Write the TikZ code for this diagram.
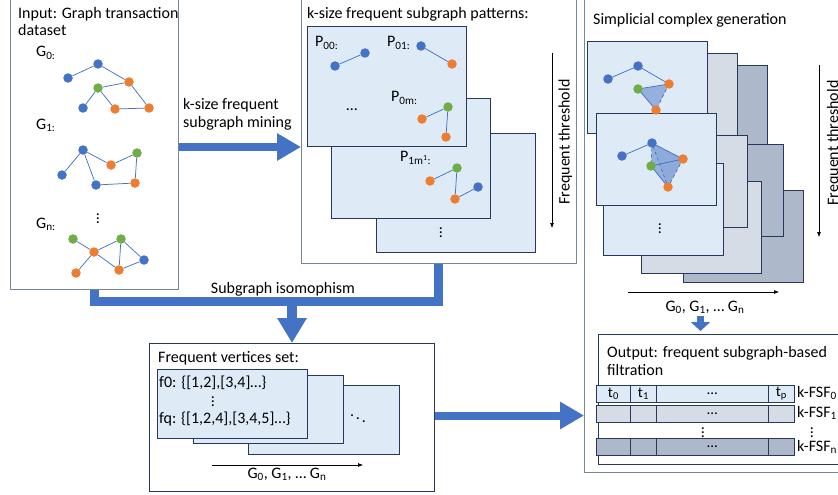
\documentclass[tikz,border=0pt]{standalone}
\usepackage{fontspec}
\setmainfont{Carlito}
\usetikzlibrary{arrows.meta}

\definecolor{blk}{HTML}{4472C4}
\definecolor{vblue}{HTML}{4472C4}
\definecolor{vorange}{HTML}{ED7D31}
\definecolor{vgreen}{HTML}{70AD47}
\definecolor{framegray}{HTML}{7485A2}
\definecolor{navy}{HTML}{26395C}
\definecolor{c0}{HTML}{DEEBF7}
\definecolor{c1}{HTML}{D6DCE5}
\definecolor{c2}{HTML}{ADB9CA}
\definecolor{facecol}{HTML}{8FAADC}

\begin{document}
\begin{tikzpicture}[x=1pt, y=-1pt,
  font=\fontsize{16}{18}\selectfont,
  frame/.style={draw=framegray, line width=1.1pt, anchor=north west, inner sep=0},
  box/.style={draw=navy, line width=1pt, anchor=north west, inner sep=0},
  card/.style={draw=navy, line width=0.9pt, anchor=north west, inner sep=0, fill=#1},
  cell/.style={draw=navy, line width=0.8pt, anchor=north west, inner sep=0, minimum height=17, fill=#1, font=\fontsize{15}{17}\selectfont},
  vtx/.style={circle, inner sep=0, minimum size=9.5pt, fill=#1},
  edge/.style={vblue, line width=0.75pt},
  face/.style={fill=facecol, fill opacity=0.9},
  bigarrow/.style={blk, line width=8pt, -{Triangle[width=26pt, length=24pt]}},
  axis/.style={line width=0.6pt, -{Latex[length=5pt, width=4pt]}},
  lbl/.style={anchor=base west, inner sep=0}]

  \useasboundingbox (0,0) rectangle (838,495);
  \clip (0,0) rectangle (838,495);

  % input panel
  \node[frame, minimum width=168, minimum height=292] (inp) at (10,-3) {};
  \node[lbl] (inpt1) at (18,18.5) {Input: Graph transaction};
  \node[lbl] (inpt2) at (18,35.5) {dataset};

  % G_0
  \node[lbl] (g0lbl) at (36,57) {G\textsubscript{0:}};
  \node[vtx=vblue] (g0a) at (68,78) {};
  \node[vtx=vblue] (g0b) at (98,64) {};
  \node[vtx=vorange] (g0c) at (129,82) {};
  \node[vtx=vgreen] (g0d) at (98,88) {};
  \node[vtx=vblue] (g0e) at (83,108) {};
  \node[vtx=vorange] (g0f) at (115,109) {};
  \node[vtx=vorange] (g0g) at (149,108) {};
  \draw[edge] (g0a) -- (g0b) -- (g0c) -- (g0g) -- (g0f) -- (g0d) -- (g0c);
  \draw[edge] (g0d) -- (g0e);

  % G_1
  \node[lbl] (g1lbl) at (36,129) {G\textsubscript{1:}};
  \node[vtx=vblue] (g1a) at (83,150) {};
  \node[vtx=vblue] (g1b) at (62,175) {};
  \node[vtx=vorange] (g1c) at (111,165) {};
  \node[vtx=vgreen] (g1d) at (137,153) {};
  \node[vtx=vblue] (g1e) at (96,185) {};
  \node[vtx=vorange] (g1f) at (135,183) {};
  \draw[edge] (g1b) -- (g1a) -- (g1c) -- (g1d) -- (g1f) -- (g1e) -- (g1a);

  \node (g1dots) at (98,216) {$\vdots$};

  % G_n
  \node[lbl] (gnlbl) at (36,228) {G\textsubscript{n:}};
  \node[vtx=vgreen] (gna) at (73,239) {};
  \node[vtx=vgreen] (gnb) at (121,239) {};
  \node[vtx=vorange] (gnc) at (94,252) {};
  \node[vtx=vblue] (gnd) at (144,260) {};
  \node[vtx=vorange] (gne) at (76,273) {};
  \node[vtx=vorange] (gnf) at (119,270) {};
  \draw[edge] (gna) -- (gnc) -- (gnb) -- (gnd) -- (gnf) -- (gnc) -- (gne);
  \draw[edge] (gnb) -- (gnf);

  % pattern panel
  \node[frame, minimum width=275, minimum height=266] (pat) at (301,-3) {};
  \node[lbl] (patt) at (307,19) {k-size frequent subgraph patterns:};
  \node[card=c0, minimum width=159, minimum height=119] (pc3) at (376,133) {};
  \node[card=c0, minimum width=159, minimum height=120] (pc2) at (331,98) {};
  \node[card=c0, minimum width=159, minimum height=120] (pc1) at (307,26) {};

  \node[lbl] (p00lbl) at (315,47) {P\textsubscript{00:}};
  \node[vtx=vblue] (p00a) at (335,66) {};
  \node[vtx=vblue] (p00b) at (365,53) {};
  \draw[edge] (p00a) -- (p00b);

  \node[lbl] (p01lbl) at (387,47) {P\textsubscript{01:}};
  \node[vtx=vblue] (p01a) at (421,46) {};
  \node[vtx=vorange] (p01b) at (452,64) {};
  \draw[edge] (p01a) -- (p01b);

  \node (pdots) at (352,110) {…};

  \node[lbl] (p0mlbl) at (391,102) {P\textsubscript{0m:}};
  \node[vtx=vgreen] (p0ma) at (448,107) {};
  \node[vtx=vorange] (p0mb) at (422,119) {};
  \node[vtx=vorange] (p0mc) at (446,137) {};
  \draw[edge] (p0mb) -- (p0ma) -- (p0mc);

  \node[lbl] (p1mlbl) at (400,161) {P\textsubscript{1m\textsuperscript{1}:}};
  \node[vtx=vorange] (p1ma) at (430,181) {};
  \node[vtx=vgreen] (p1mb) at (457,168) {};
  \node[vtx=vorange] (p1mc) at (455,199) {};
  \node[vtx=vblue] (p1md) at (478,187) {};
  \draw[edge] (p1ma) -- (p1mb) -- (p1mc) -- (p1md);

  \node (pcdots) at (441,230) {$\vdots$};

  \coordinate (th1) at (552,53);
  \coordinate (th2) at (552,228);
  \draw[axis] (th1) -- (th2);
  \node[rotate=90, anchor=base] (thlbl1) at (569.5,142) {Frequent threshold};

  % mining arrow
  \draw[bigarrow] (inp.east |- 0,147) -- (pat.west |- 0,147);
  \node[lbl] (mine1) at (183,109) {k-size frequent};
  \node[lbl] (mine2) at (183,127) {subgraph mining};

  % simplicial panel
  \node[frame, minimum width=275, minimum height=475] (smp) at (584,-3) {};
  \node[lbl] (smpt) at (593,25) {Simplicial complex generation};

  % back stack
  \node[card=c2, minimum width=120, minimum height=92] (s02) at (647,65) {};
  \node[card=c2, minimum width=120, minimum height=92] (s22) at (683,190) {};
  \node[card=c2, minimum width=120, minimum height=92] (s12) at (663,144) {};
  % middle stack
  \node[card=c1, minimum width=120, minimum height=92] (s01) at (617,53) {};
  \node[card=c1, minimum width=120, minimum height=92] (s21) at (641,181) {};
  \node[card=c1, minimum width=120, minimum height=92] (s11) at (627,135) {};
  % front stack
  \node[card=c0, minimum width=120, minimum height=92] (s00) at (587,41) {};
  \node[card=c0, minimum width=120, minimum height=92] (s20) at (603,163) {};
  \node[card=c0, minimum width=120, minimum height=92] (s10) at (596,113) {};

  % triangle
  \coordinate (sa1) at (608,79);
  \coordinate (sa2) at (638,66);
  \coordinate (sa3) at (669,84);
  \coordinate (sa4) at (638,89);
  \coordinate (sa5) at (656,110);
  \fill[face] (sa4) -- (sa3) -- (sa5) -- cycle;
  \draw[edge] (sa1) -- (sa2) -- (sa3) -- (sa4) -- (sa5);
  \draw[edge, dashed] (sa3) -- (sa5);
  \node[vtx=vblue] (va1) at (sa1) {};
  \node[vtx=vblue] (va2) at (sa2) {};
  \node[vtx=vorange] (va3) at (sa3) {};
  \node[vtx=vgreen] (va4) at (sa4) {};
  \node[vtx=vorange] (va5) at (sa5) {};

  % tetrahedron
  \coordinate (sb1) at (622,156);
  \coordinate (sb2) at (652,143);
  \coordinate (sb3) at (683,159);
  \coordinate (sb4) at (651,166);
  \coordinate (sb5) at (668,187);
  \fill[face] (sb2) -- (sb3) -- (sb5) -- (sb4) -- cycle;
  \fill[facecol!80!blk, fill opacity=0.35] (sb2) -- (sb3) -- (sb5) -- cycle;
  \draw[edge] (sb1) -- (sb2) -- (sb3) -- (sb4) -- (sb5);
  \draw[edge, dashed] (sb3) -- (sb5) -- (sb2) -- (sb4);
  \node[vtx=vblue] (vb1) at (sb1) {};
  \node[vtx=vblue] (vb2) at (sb2) {};
  \node[vtx=vorange] (vb3) at (sb3) {};
  \node[vtx=vgreen] (vb4) at (sb4) {};
  \node[vtx=vorange] (vb5) at (sb5) {};

  \node (sdots) at (660,226) {$\vdots$};

  \coordinate (th3) at (819,65);
  \coordinate (th4) at (819,237);
  \draw[axis] (th3) -- (th4);
  \node[rotate=90, anchor=base] (thlbl2) at (838,143) {Frequent threshold};

  \coordinate (gx1) at (628,292);
  \coordinate (gx2) at (779,292);
  \draw[axis] (gx1) -- (gx2);
  \node[anchor=base] (gxlbl) at (705,311) {G\textsubscript{0}, G\textsubscript{1}, … G\textsubscript{n}};

  % output
  \node[box, minimum width=260, minimum height=130] (outp) at (598,334) {};
  \coordinate (sm1) at (700.5,316);
  \coordinate (sm2) at (700.5,331);
  \draw[blk, line width=7pt, -{Triangle[width=19pt, length=9pt]}] (sm1) -- (sm2);
  \node[lbl] (outt1) at (607,357) {Output: frequent subgraph-based};
  \node[lbl] (outt2) at (607,375) {filtration};

  % first row
  \node[cell=c0, minimum width=34] (r0a) at (596,385) {t\textsubscript{0}};
  \node[cell=c0, minimum width=26] (r0b) at (630,385) {t\textsubscript{1}};
  \node[cell=c0, minimum width=112] (r0c) at (656,385) {…};
  \node[cell=c0, minimum width=26] (r0d) at (768,385) {t\textsubscript{p}};
  \node[lbl] (fsf0) at (797,397) {k-FSF\textsubscript{0}};

  % second row
  \node[cell=c1, minimum width=34] (r1a) at (596,405) {};
  \node[cell=c1, minimum width=26] (r1b) at (630,405) {};
  \node[cell=c1, minimum width=112] (r1c) at (656,405) {…};
  \node[cell=c1, minimum width=26] (r1d) at (768,405) {};
  \node[lbl] (fsf1) at (797,417) {k-FSF\textsubscript{1}};

  \node (rdots1) at (703,430) {$\vdots$};
  \node (rdots2) at (812,430) {$\vdots$};

  % last row
  \node[cell=c2, minimum width=34] (r2a) at (596,438) {};
  \node[cell=c2, minimum width=26] (r2b) at (630,438) {};
  \node[cell=c2, minimum width=112] (r2c) at (656,438) {…};
  \node[cell=c2, minimum width=26] (r2d) at (768,438) {};
  \node[lbl] (fsfn) at (797,451) {k-FSF\textsubscript{n}};

  % vertices set panel
  \node[box, minimum width=285, minimum height=148] (fvs) at (149,343) {};
  \node[lbl] (fvst) at (158,362) {Frequent vertices set:};
  \node[card=c0, minimum width=151, minimum height=69] (fc3) at (248,385) {};
  \node[card=c0, minimum width=150, minimum height=68] (fc2) at (193,375) {};
  \node[card=c0, minimum width=150, minimum height=69] (fc1) at (157,369) {};
  \node[lbl] (f0) at (159,387) {f0: \{[1,2],[3,4]…\}};
  \node (fdots) at (213,399) {$\vdots$};
  \node[lbl] (fq) at (159,423) {fq: \{[1,2,4],[3,4,5]…\}};
  \node (fcdots) at (358,416) {$\ddots$};

  \coordinate (gy1) at (212,465);
  \coordinate (gy2) at (363,465);
  \draw[axis] (gy1) -- (gy2);
  \node[anchor=base] (gylbl) at (287,478) {G\textsubscript{0}, G\textsubscript{1}, … G\textsubscript{n}};

  % isomorphism arrows
  \coordinate (iso) at (292,301.5);
  \draw[blk, line width=9pt] (inp.south -| 94.5,0) |- (iso) -| (pat.south -| 438.5,0);
  \draw[bigarrow, line width=10pt, -{Triangle[width=28pt, length=25pt]}] (iso) -- (fvs.north -| iso);
  \node[anchor=base] (isolbl) at (283,293) {Subgraph isomophism};

  \draw[bigarrow] (fvs.east |- 0,415.5) -- (smp.west |- 0,415.5);

\end{tikzpicture}
\end{document}
